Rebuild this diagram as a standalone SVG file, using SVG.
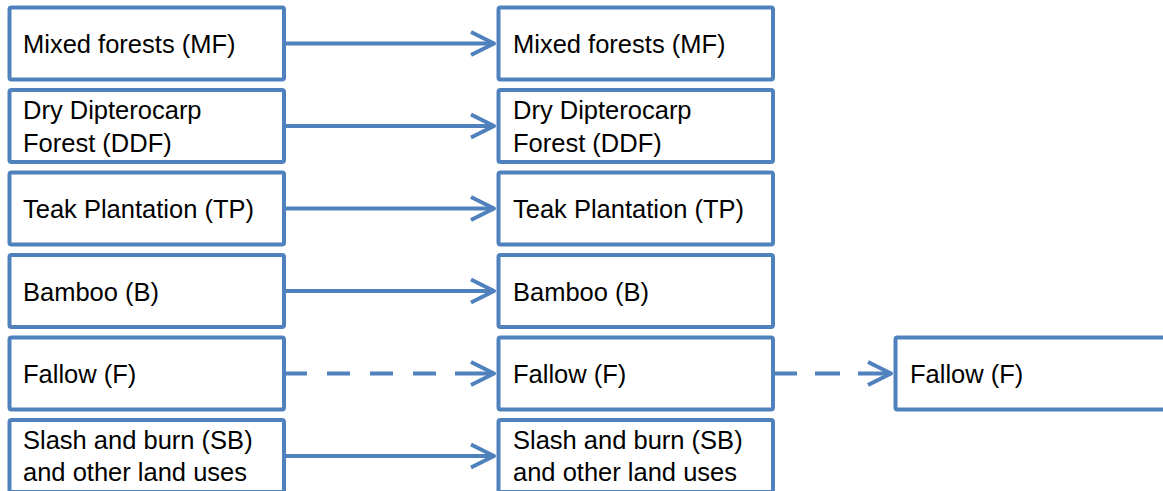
<svg xmlns="http://www.w3.org/2000/svg" width="1163" height="491" viewBox="0 0 1163 491">
<style>
  .box { fill: #FFFFFF; stroke: #4F81BD; stroke-width: 4; }
  .lbl { font-family: "Liberation Sans", Arial, sans-serif; font-size: 25.5px; fill: #000000; }
  .conn { fill: none; stroke: #4F81BD; stroke-width: 4; }
</style>
<defs>
  <marker id="arrow" markerUnits="userSpaceOnUse" viewBox="-26 -14 28 28" refX="0" refY="0" markerWidth="28" markerHeight="28" orient="auto" overflow="visible">
    <polyline points="-23,-11.5 0,0 -23,11.5" fill="none" stroke="#4F81BD" stroke-width="4" stroke-linejoin="round" stroke-dasharray="none"/>
  </marker>
</defs>
<rect width="1163" height="491" fill="#FFFFFF"/>

<g id="mf-1"><rect class="box" x="9.5" y="7.5" width="274.5" height="72" rx="2"/><text class="lbl" x="23" y="53">Mixed forests (MF)</text></g>
<g id="ddf-1"><rect class="box" x="9.5" y="90" width="274.5" height="72" rx="2"/><text class="lbl" x="23" y="118.5">Dry Dipterocarp</text><text class="lbl" x="23" y="151.5">Forest (DDF)</text></g>
<g id="tp-1"><rect class="box" x="9.5" y="172.5" width="274.5" height="72" rx="2"/><text class="lbl" x="23" y="218">Teak Plantation (TP)</text></g>
<g id="b-1"><rect class="box" x="9.5" y="255" width="274.5" height="72" rx="2"/><text class="lbl" x="23" y="300.5">Bamboo (B)</text></g>
<g id="f-1"><rect class="box" x="9.5" y="337.5" width="274.5" height="72" rx="2"/><text class="lbl" x="23" y="383">Fallow (F)</text></g>
<g id="sb-1"><rect class="box" x="9.5" y="420" width="274.5" height="72" rx="2"/><text class="lbl" x="23" y="448.5">Slash and burn (SB)</text><text class="lbl" x="23" y="481">and other land uses</text></g>

<g id="mf-2"><rect class="box" x="498.5" y="7.5" width="274.5" height="72" rx="2"/><text class="lbl" x="513" y="53">Mixed forests (MF)</text></g>
<g id="ddf-2"><rect class="box" x="498.5" y="90" width="274.5" height="72" rx="2"/><text class="lbl" x="513" y="118.5">Dry Dipterocarp</text><text class="lbl" x="513" y="151.5">Forest (DDF)</text></g>
<g id="tp-2"><rect class="box" x="498.5" y="172.5" width="274.5" height="72" rx="2"/><text class="lbl" x="513" y="218">Teak Plantation (TP)</text></g>
<g id="b-2"><rect class="box" x="498.5" y="255" width="274.5" height="72" rx="2"/><text class="lbl" x="513" y="300.5">Bamboo (B)</text></g>
<g id="f-2"><rect class="box" x="498.5" y="337.5" width="274.5" height="72" rx="2"/><text class="lbl" x="513" y="383">Fallow (F)</text></g>
<g id="sb-2"><rect class="box" x="498.5" y="420" width="274.5" height="72" rx="2"/><text class="lbl" x="513" y="448.5">Slash and burn (SB)</text><text class="lbl" x="513" y="481">and other land uses</text></g>

<g id="f-3"><rect class="box" x="895.5" y="337.5" width="290" height="72" rx="2"/><text class="lbl" x="910" y="383">Fallow (F)</text></g>

<g id="connectors">
  <path class="conn" d="M284,43.5 H494" marker-end="url(#arrow)"/>
  <path class="conn" d="M284,126 H494" marker-end="url(#arrow)"/>
  <path class="conn" d="M284,208.5 H494" marker-end="url(#arrow)"/>
  <path class="conn" d="M284,291 H494" marker-end="url(#arrow)"/>
  <path class="conn" d="M284,373.5 H494" stroke-dasharray="23 20 23 20 23 20 23 19 39" marker-end="url(#arrow)"/>
  <path class="conn" d="M284,456 H494" marker-end="url(#arrow)"/>
  <path class="conn" d="M773,373.5 H891" stroke-dasharray="24 18 25 18 33" marker-end="url(#arrow)"/>
</g>
</svg>
